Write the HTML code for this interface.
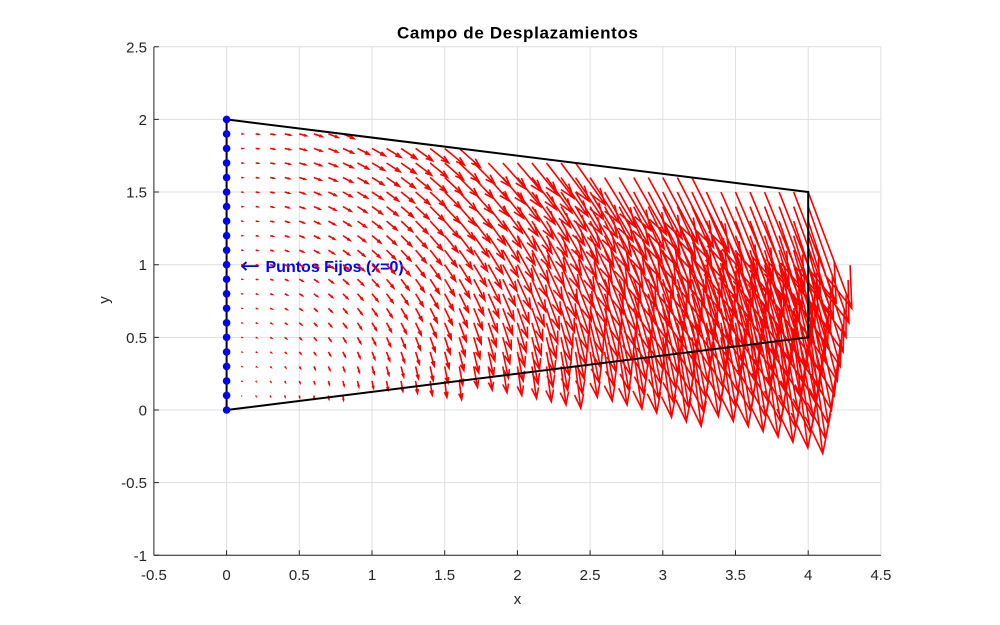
<!DOCTYPE html>
<html>
<head>
<meta charset="utf-8">
<style>
html,body{margin:0;padding:0;background:#fff;}
svg{display:block;}
text{font-family:"Liberation Sans",Arial,sans-serif;fill:#262626;}
</style>
</head>
<body>
<svg id="s" width="1000" height="625" viewBox="0 0 1000 625" xmlns="http://www.w3.org/2000/svg">
<rect x="0" y="0" width="1000" height="625" fill="#fff"/>
<g stroke="#dfdfdf" stroke-width="1" fill="none">
<line x1="153.9" y1="46.75" x2="153.9" y2="555.3"/>
<line x1="226.6" y1="46.75" x2="226.6" y2="555.3"/>
<line x1="299.3" y1="46.75" x2="299.3" y2="555.3"/>
<line x1="372.0" y1="46.75" x2="372.0" y2="555.3"/>
<line x1="444.7" y1="46.75" x2="444.7" y2="555.3"/>
<line x1="517.4" y1="46.75" x2="517.4" y2="555.3"/>
<line x1="590.1" y1="46.75" x2="590.1" y2="555.3"/>
<line x1="662.8" y1="46.75" x2="662.8" y2="555.3"/>
<line x1="735.5" y1="46.75" x2="735.5" y2="555.3"/>
<line x1="808.2" y1="46.75" x2="808.2" y2="555.3"/>
<line x1="880.9" y1="46.75" x2="880.9" y2="555.3"/>
<line x1="153.9" y1="46.75" x2="880.9" y2="46.75"/>
<line x1="153.9" y1="119.4" x2="880.9" y2="119.4"/>
<line x1="153.9" y1="192.05" x2="880.9" y2="192.05"/>
<line x1="153.9" y1="264.7" x2="880.9" y2="264.7"/>
<line x1="153.9" y1="337.35" x2="880.9" y2="337.35"/>
<line x1="153.9" y1="410" x2="880.9" y2="410"/>
<line x1="153.9" y1="482.65" x2="880.9" y2="482.65"/>
<line x1="153.9" y1="555.3" x2="880.9" y2="555.3"/>
</g>
<!-- axes -->
<g stroke="#262626" stroke-width="1" fill="none">
<line x1="153.9" y1="46.75" x2="153.9" y2="555.3"/>
<line x1="153.9" y1="555.3" x2="880.9" y2="555.3"/>
<path d="M153.9 46.75h5M153.9 119.4h5M153.9 192.05h5M153.9 264.7h5M153.9 337.35h5M153.9 410h5M153.9 482.65h5M153.9 555.3h5"/>
<path d="M226.6 555.3v-5M299.3 555.3v-5M372 555.3v-5M444.7 555.3v-5M517.4 555.3v-5M590.1 555.3v-5M662.8 555.3v-5M735.5 555.3v-5M808.2 555.3v-5"/>
</g>
<!-- tick labels -->
<g font-size="15" text-anchor="middle">
<text x="153.9" y="580">-0.5</text>
<text x="226.6" y="580">0</text>
<text x="299.3" y="580">0.5</text>
<text x="372.0" y="580">1</text>
<text x="444.7" y="580">1.5</text>
<text x="517.4" y="580">2</text>
<text x="590.1" y="580">2.5</text>
<text x="662.8" y="580">3</text>
<text x="735.5" y="580">3.5</text>
<text x="808.2" y="580">4</text>
<text x="880.9" y="580">4.5</text>
</g>
<g font-size="15" text-anchor="end">
<text x="147" y="52.5">2.5</text>
<text x="147" y="125">2</text>
<text x="147" y="197.5">1.5</text>
<text x="147" y="270">1</text>
<text x="147" y="343">0.5</text>
<text x="147" y="415.5">0</text>
<text x="147" y="488">-0.5</text>
<text x="147" y="561">-1</text>
</g>
<text x="517.5" y="604" font-size="15" text-anchor="middle">x</text>
<text x="0" y="0" font-size="15" text-anchor="middle" transform="translate(109,300) rotate(-90)">y</text>
<text x="517.5" y="38.5" font-size="17" font-weight="bold" text-anchor="middle" style="fill:#000" textLength="241" lengthAdjust="spacing">Campo de Desplazamientos</text>

<!-- label -->
<text x="240" y="273" style="fill:#0000ff"><tspan font-weight="normal" font-size="22" font-family="DejaVu Sans, sans-serif" textLength="20" lengthAdjust="spacingAndGlyphs">←</tspan><tspan font-weight="bold" font-size="16" x="265.5" y="272">Puntos Fijos (x=0)</tspan></text>

<!-- quiver -->
<path id="q" d="" stroke="#ff0000" stroke-width="1.6" fill="none" stroke-linejoin="miter"/>

<!-- boundary -->
<path d="M226.6 410 L808.2 337.35 L808.2 192.05 L226.6 119.4 Z" stroke="#000" stroke-width="2" fill="none"/>

<g id="dots" fill="#0000ff"></g>
</svg>
<script>
(function(){
  var X=function(v){return 226.6+145.4*v;};
  var Y=function(v){return 410-145.3*v;};
  var d=[];
  var a=0.33,b=0.33;
  for(var i=1;i<=40;i++){
    var x=i/10, bot=0.125*x, top=2-0.125*x;
    for(var j=0;j<=20;j++){
      var y=j/10;
      if(y<bot-1e-9||y>top+1e-9) continue;
      var u=0.05*x*y, v=-0.05*x*x;
      var tx=x+u, ty=y+v;
      var h1x=tx-a*(u+b*v), h1y=ty-a*(v-b*u);
      var h2x=tx-a*(u-b*v), h2y=ty-a*(v+b*u);
      d.push('M'+X(x).toFixed(2)+' '+Y(y).toFixed(2)+'L'+X(tx).toFixed(2)+' '+Y(ty).toFixed(2));
      d.push('M'+X(h1x).toFixed(2)+' '+Y(h1y).toFixed(2)+'L'+X(tx).toFixed(2)+' '+Y(ty).toFixed(2)+'L'+X(h2x).toFixed(2)+' '+Y(h2y).toFixed(2));
    }
  }
  document.getElementById('q').setAttribute('d',d.join(''));
  var g=document.getElementById('dots'), ns='http://www.w3.org/2000/svg';
  for(var k=0;k<=20;k++){
    var c=document.createElementNS(ns,'circle');
    c.setAttribute('cx',X(0));c.setAttribute('cy',Y(k/10).toFixed(2));c.setAttribute('r','3.8');
    g.appendChild(c);
  }
})();
</script>
</body>
</html>
